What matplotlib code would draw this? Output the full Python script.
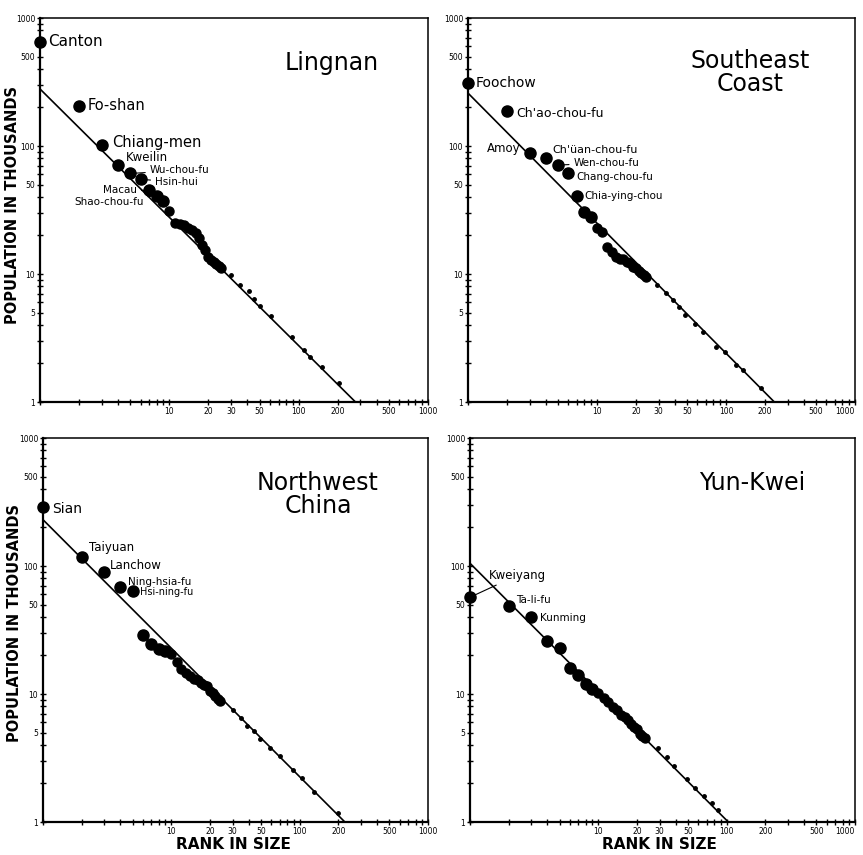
import numpy as np
import matplotlib
matplotlib.use("Agg")
import matplotlib.pyplot as plt

plt.rcParams['font.family'] = ['DejaVu Sans']

# rank / population (thousands)
lingnan_rank = [1, 2, 3, 4, 5, 6, 7, 8, 9, 10, 11, 12, 13, 14, 15, 16, 17, 18, 19, 20,
                21, 22, 23, 24, 25, 30, 35, 41, 45, 50, 61, 89, 109, 123, 151, 204]
lingnan_pop = [650, 206, 102, 71, 61, 55, 45, 41, 37, 31, 25, 24.5, 24, 23, 22, 21, 19, 17, 15.5, 13.5,
               12.8, 12.3, 11.9, 11.5, 11.1, 9.8, 8.2, 7.3, 6.4, 5.6, 4.7, 3.2, 2.55, 2.26, 1.89, 1.4]
lingnan_line = [279, 275]   # population at rank 1, rank where population = 1

sec_rank = [1, 2, 3, 4, 5, 6, 7, 8, 9, 10, 11, 12, 13, 14, 15, 16, 17, 18, 19, 20,
            21, 22, 23, 24, 29, 34, 39, 43, 48, 57, 66, 84, 98, 120, 135, 187]
sec_pop = [312, 188, 88, 80, 71, 62, 41, 30.7, 28, 22.7, 21.4, 16.3, 14.9, 13.6, 13.2, 13.0, 12.4, 12.1, 11.4, 11.1,
           10.5, 10.2, 9.8, 9.4, 8.2, 7.1, 6.3, 5.5, 4.8, 4.1, 3.55, 2.7, 2.47, 1.95, 1.78, 1.28]
sec_line = [259, 237]

nw_rank = [1, 2, 3, 4, 5, 6, 7, 8, 9, 10, 11, 12, 13, 14, 15, 16, 17, 18, 19, 20,
           21, 22, 23, 24, 30, 35, 39, 44, 49, 59, 70, 88, 105, 129, 200]
nw_pop = [289, 118, 89, 69, 64, 29, 24.7, 22.5, 21.5, 20.6, 17.7, 15.7, 14.6, 13.7, 13.2, 12.9, 12.2, 11.8, 11.5, 10.5,
          10.1, 9.7, 9.2, 8.75, 7.5, 6.5, 5.65, 5.1, 4.47, 3.79, 3.3, 2.56, 2.2, 1.73, 1.17]
nw_line = [230, 225]

yk_rank = [1, 2, 3, 4, 5, 6, 7, 8, 9, 10, 11, 12, 13, 14, 15, 16, 17, 18, 19, 20,
           21, 22, 23, 29, 34, 39, 49, 57, 66, 77, 86]
yk_pop = [57, 49, 40, 26, 23, 16, 14.2, 11.9, 11, 10.1, 9.35, 8.65, 7.96, 7.5, 6.9, 6.6, 6.3, 5.8, 5.5, 5.3,
          4.9, 4.7, 4.5, 3.8, 3.2, 2.72, 2.17, 1.85, 1.6, 1.41, 1.23]
yk_line = [105, 103]

# named cities: (index into the rank list, name)
lingnan_names = [(0, "Canton"), (1, "Fo-shan"), (2, "Chiang-men"), (3, "Kweilin"),
                 (4, "Wu-chou-fu"), (5, "Hsin-hui"), (6, "Macau"), (7, "Shao-chou-fu")]
sec_names = [(0, "Foochow"), (1, "Ch'ao-chou-fu"), (2, "Amoy"), (3, "Ch'üan-chou-fu"),
             (4, "Wen-chou-fu"), (5, "Chang-chou-fu"), (6, "Chia-ying-chou")]
nw_names = [(0, "Sian"), (1, "Taiyuan"), (2, "Lanchow"), (3, "Ning-hsia-fu"), (4, "Hsi-ning-fu")]
yk_names = [(0, "Kweiyang"), (1, "Ta-li-fu"), (2, "Kunming")]

# label placement: offset in pixels, font size, alignment, leader line
lingnan_lab = [((8, 0), 11, 'left', False), ((9, 0), 10.5, 'left', False), ((10, 2), 10.5, 'left', False),
               ((8, 8), 8.5, 'left', False), ((19, 3), 7.5, 'left', True), ((14, -3), 7.5, 'left', True),
               ((-12, 0), 7.5, 'right', True), ((-13, -6), 7.5, 'right', True)]
sec_lab = [((8, 0), 10, 'left', False), ((9, -3), 9, 'left', False), ((-9, 5), 8.5, 'right', False),
           ((7, 8), 8, 'left', False), ((15, 2), 7.5, 'left', True), ((8, -4), 7.5, 'left', False),
           ((7, 0), 7.5, 'left', False)]
nw_lab = [((9, -2), 10, 'left', False), ((7, 9), 8.5, 'left', False), ((6, 7), 8.5, 'left', False),
          ((8, 5), 7.5, 'left', False), ((7, -1), 7, 'left', False)]
yk_lab = [((19, 22), 8.5, 'left', True), ((7, 6), 7.5, 'left', False), ((9, -1), 7.5, 'left', False)]

W, H = 863, 855
fig = plt.figure(figsize=(W / 100, H / 100), dpi=100)
fig.patch.set_facecolor('white')

def rect(l, t, r, b):
    return [l / W, 1 - b / H, (r - l) / W, (b - t) / H]

decades = [1, 10, 100]
all_ticks = [m * d for d in decades for m in range(1, 10)] + [1000]
x_lab = {10: "10", 20: "20", 30: "30", 50: "50", 100: "100", 200: "200", 500: "500", 1000: "1000"}
y_lab = {1: "1", 5: "5", 10: "10", 50: "50", 100: "100", 500: "500", 1000: "1000"}

def panel(box, rank, pop, line, names, labs, title, tx, ty, right_edge=False):
    ax = fig.add_axes(box)
    ax.set_xscale('log')
    ax.set_yscale('log')
    ax.set_xlim(1, 1000)
    ax.set_ylim(1, 1000)
    ax.set_xticks(all_ticks)
    ax.set_xticklabels([x_lab.get(t, "") for t in all_ticks])
    ax.set_yticks(all_ticks)
    ax.set_yticklabels([y_lab.get(t, "") for t in all_ticks])
    ax.minorticks_off()
    ax.tick_params(direction='inout', length=5, width=1, labelsize=5.5, pad=1)
    if right_edge:
        ax.get_xticklabels()[-1].set_horizontalalignment('right')
    for s in ax.spines.values():
        s.set_linewidth(1.1)
    ax.spines['left'].set_linewidth(1.6)
    ax.spines['bottom'].set_linewidth(1.6)

    ax.plot([1, line[1]], [line[0], 1], color='black', lw=1.2, zorder=2)
    for r, p in zip(rank, pop):
        if r <= 9:
            ms = 8
        elif r <= 25:
            ms = 6.5
        else:
            ms = 2.5
        ax.plot(r, p, 'o', color='black', ms=ms, clip_on=False, zorder=3)

    for (i, name), (off, fs, ha, lead) in zip(names, labs):
        xy = (rank[i], pop[i])
        if lead:
            ax.annotate(name, xy=xy, xytext=off, textcoords='offset pixels', fontsize=fs,
                        ha=ha, va='center', annotation_clip=False,
                        arrowprops=dict(arrowstyle='-', lw=0.8, color='black', shrinkA=1, shrinkB=3))
        else:
            ax.annotate(name, xy=xy, xytext=off, textcoords='offset pixels', fontsize=fs,
                        ha=ha, va='center', annotation_clip=False)

    ax.text(tx, ty, title, transform=ax.transAxes, fontsize=17, ha='center', va='center',
            linespacing=0.95)
    return ax

panel(rect(40, 18, 428, 402), lingnan_rank, lingnan_pop, lingnan_line, lingnan_names, lingnan_lab,
      "Lingnan", 0.753, 0.882)
panel(rect(468, 18, 855, 402), sec_rank, sec_pop, sec_line, sec_names, sec_lab,
      "Southeast\nCoast", 0.729, 0.859, right_edge=True)
panel(rect(43, 438, 428, 822), nw_rank, nw_pop, nw_line, nw_names, nw_lab,
      "Northwest\nChina", 0.714, 0.852)
panel(rect(470, 438, 855, 822), yk_rank, yk_pop, yk_line, yk_names, yk_lab,
      "Yun-Kwei", 0.732, 0.882, right_edge=True)

fig.text(13 / W, 1 - 205 / H, "POPULATION IN THOUSANDS", rotation=90, fontsize=10.5,
         fontweight='bold', ha='center', va='center')
fig.text(15 / W, 1 - 623 / H, "POPULATION IN THOUSANDS", rotation=90, fontsize=10.5,
         fontweight='bold', ha='center', va='center')
fig.text(233 / W, 1 - 844 / H, "RANK IN SIZE", fontsize=11, fontweight='bold', ha='center', va='center')
fig.text(659 / W, 1 - 844 / H, "RANK IN SIZE", fontsize=11, fontweight='bold', ha='center', va='center')

fig.savefig("out.png", dpi=100, facecolor='white')
